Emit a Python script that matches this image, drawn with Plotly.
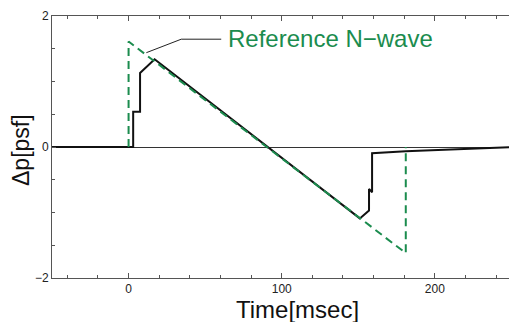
import plotly.graph_objects as go

# Measured signature (black)
measured_t = [-50, 3, 3, 7.5, 7.5, 17, 151, 157, 157, 159, 159, 181, 248.5]
measured_p = [0, 0, 0.54, 0.54, 1.13, 1.34, -1.09, -0.97, -0.64, -0.69, -0.095, -0.065, -0.005]

# Reference N-wave (green dashed)
nwave_t = [0, 0, 181, 181]
nwave_p = [0, 1.61, -1.62, 0]

x_tickvals = [0, 100, 200]
y_tickvals = [-2, 0, 2]

GREEN = "#1b8c4e"
FONT = "Liberation Sans, Arial, Helvetica, sans-serif"

fig = go.Figure()
fig.add_trace(go.Scatter(x=measured_t, y=measured_p, mode="lines",
                         line=dict(color="#111111", width=2), showlegend=False))
fig.add_trace(go.Scatter(x=nwave_t, y=nwave_p, mode="lines",
                         line=dict(color=GREEN, width=2, dash="8px,5px"), showlegend=False))

# leader line for the label
fig.add_shape(type="path", path="M 11.6,1.44 L 34.4,1.646 L 60.5,1.646",
              xref="x", yref="y", line=dict(color="#222222", width=1))
fig.add_annotation(x=63.5, y=1.65, xref="x", yref="y", text="Reference N\u2212wave",
                   showarrow=False, xanchor="left", yanchor="middle",
                   font=dict(family=FONT, size=24, color=GREEN))

# axis titles
fig.add_annotation(x=(21 - 52) / 457, y=(278 - 150) / 262, xref="paper", yref="paper",
                   text="\u0394p[psf]", textangle=-90, showarrow=False,
                   xanchor="center", yanchor="middle",
                   font=dict(family=FONT, size=23, color="#111111"))
fig.add_annotation(x=(297 - 52) / 457, y=(278 - 309) / 262, xref="paper", yref="paper",
                   text="Time[msec]", showarrow=False,
                   xanchor="center", yanchor="middle",
                   font=dict(family=FONT, size=24, color="#111111"))

fig.update_layout(
    width=509, height=322,
    margin=dict(l=52, r=0, t=16, b=44),
    paper_bgcolor="white", plot_bgcolor="white",
    font=dict(family=FONT, size=12, color="#222222"),
    showlegend=False,
)
fig.update_xaxes(range=[-50, 248.4], tickvals=x_tickvals, ticks="inside", ticklen=5,
                 tickcolor="#555555", showline=True, linecolor="#555555", linewidth=1,
                 mirror="ticks", showgrid=False, zeroline=False,
                 minor=dict(dtick=20, tick0=0, ticks="inside", ticklen=3, tickcolor="#555555"),
                 tickfont=dict(size=12, color="#222222"))
fig.update_yaxes(range=[-2, 2], tickvals=y_tickvals, ticks="inside", ticklen=4,
                 tickcolor="#555555", showline=True, linecolor="#555555", linewidth=1,
                 showgrid=False, zeroline=True, zerolinecolor="#333333", zerolinewidth=1,
                 minor=dict(dtick=0.5, tick0=0, ticks="inside", ticklen=3, tickcolor="#555555"),
                 tickfont=dict(size=12, color="#222222"))

fig.write_html("out.html", config={"displayModeBar": False},
               post_script="document.body.style.margin='0px';document.body.style.overflow='hidden';")
